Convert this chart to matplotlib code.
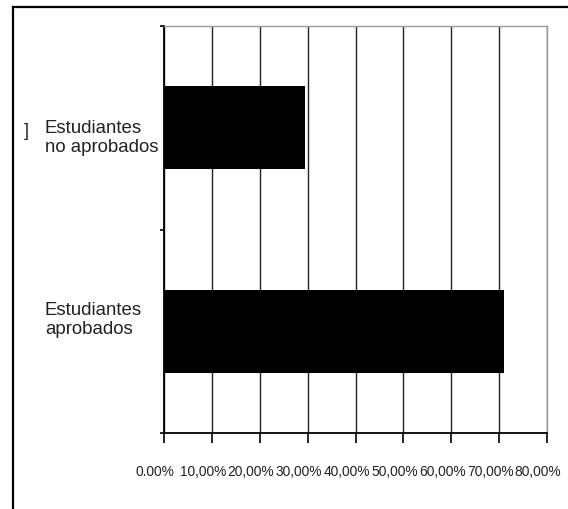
import numpy as np
import matplotlib.pyplot as plt
import matplotlib.transforms as mtransforms
from matplotlib.lines import Line2D

plt.rcParams['font.family'] = ['Liberation Sans', 'DejaVu Sans']

# Data
categorias = ['Estudiantes\naprobados', 'Estudiantes\nno aprobados']
porcentajes = [71.0, 29.4]
ticks_x = [0, 10, 20, 30, 40, 50, 60, 70, 80]
etiquetas_x = ['0.00%', '10,00%', '20,00%', '30,00%', '40,00%',
               '50,00%', '60,00%', '70,00%', '80,00%']

W, H = 568, 510
fig = plt.figure(figsize=(W / 100, H / 100), dpi=100)
ax = fig.add_axes([164 / W, 1 - 434 / H, (547 - 164) / W, (434 - 27) / H])

y = np.arange(len(categorias))
ax.barh(y, porcentajes, height=0.41, color='black', zorder=3)
ax.set_xlim(0, 80)
ax.set_ylim(-0.5, 1.5)

# vertical gridlines
ax.set_xticks(ticks_x)
ax.grid(axis='x', color='#222222', linewidth=1.0, zorder=1)
ax.set_axisbelow(True)
ax.set_xticklabels(etiquetas_x, fontsize=9.9, color='#222222')
ax.tick_params(axis='x', length=7, width=1.2, color='black', pad=15)
offset = mtransforms.ScaledTranslation(-9 / 100, 0, fig.dpi_scale_trans)
for lbl in ax.get_xticklabels():
    lbl.set_transform(lbl.get_transform() + offset)

# y ticks at category boundaries, labels drawn as text
ax.set_yticks([-0.5, 0.5, 1.5])
ax.set_yticklabels([])
ax.tick_params(axis='y', length=3, width=1.2, color='black')
pos_texto = [0.059, 0.956]
for yt, cat in zip(pos_texto, categorias):
    ax.text(-24.9, yt, cat, fontsize=13.4, ha='left', va='center',
            color='#222222', linespacing=1.15)
ax.text(-29.2, 1.0 - 0.015, ']', fontsize=13, ha='left', va='center',
        color='#222222')

for side in ['left', 'bottom']:
    ax.spines[side].set_color('black')
    ax.spines[side].set_linewidth(1.3)
for side in ['top', 'right']:
    ax.spines[side].set_color('#999999')
    ax.spines[side].set_linewidth(1.0)

# outer frame (left and top edges)
fig.add_artist(Line2D([13 / W, 13 / W], [0, 1 - 8 / H], color='black',
                      linewidth=1.6, transform=fig.transFigure))
fig.add_artist(Line2D([13 / W, 1], [1 - 8 / H, 1 - 8 / H], color='black',
                      linewidth=1.6, transform=fig.transFigure))

plt.savefig('out.png', dpi=100)
